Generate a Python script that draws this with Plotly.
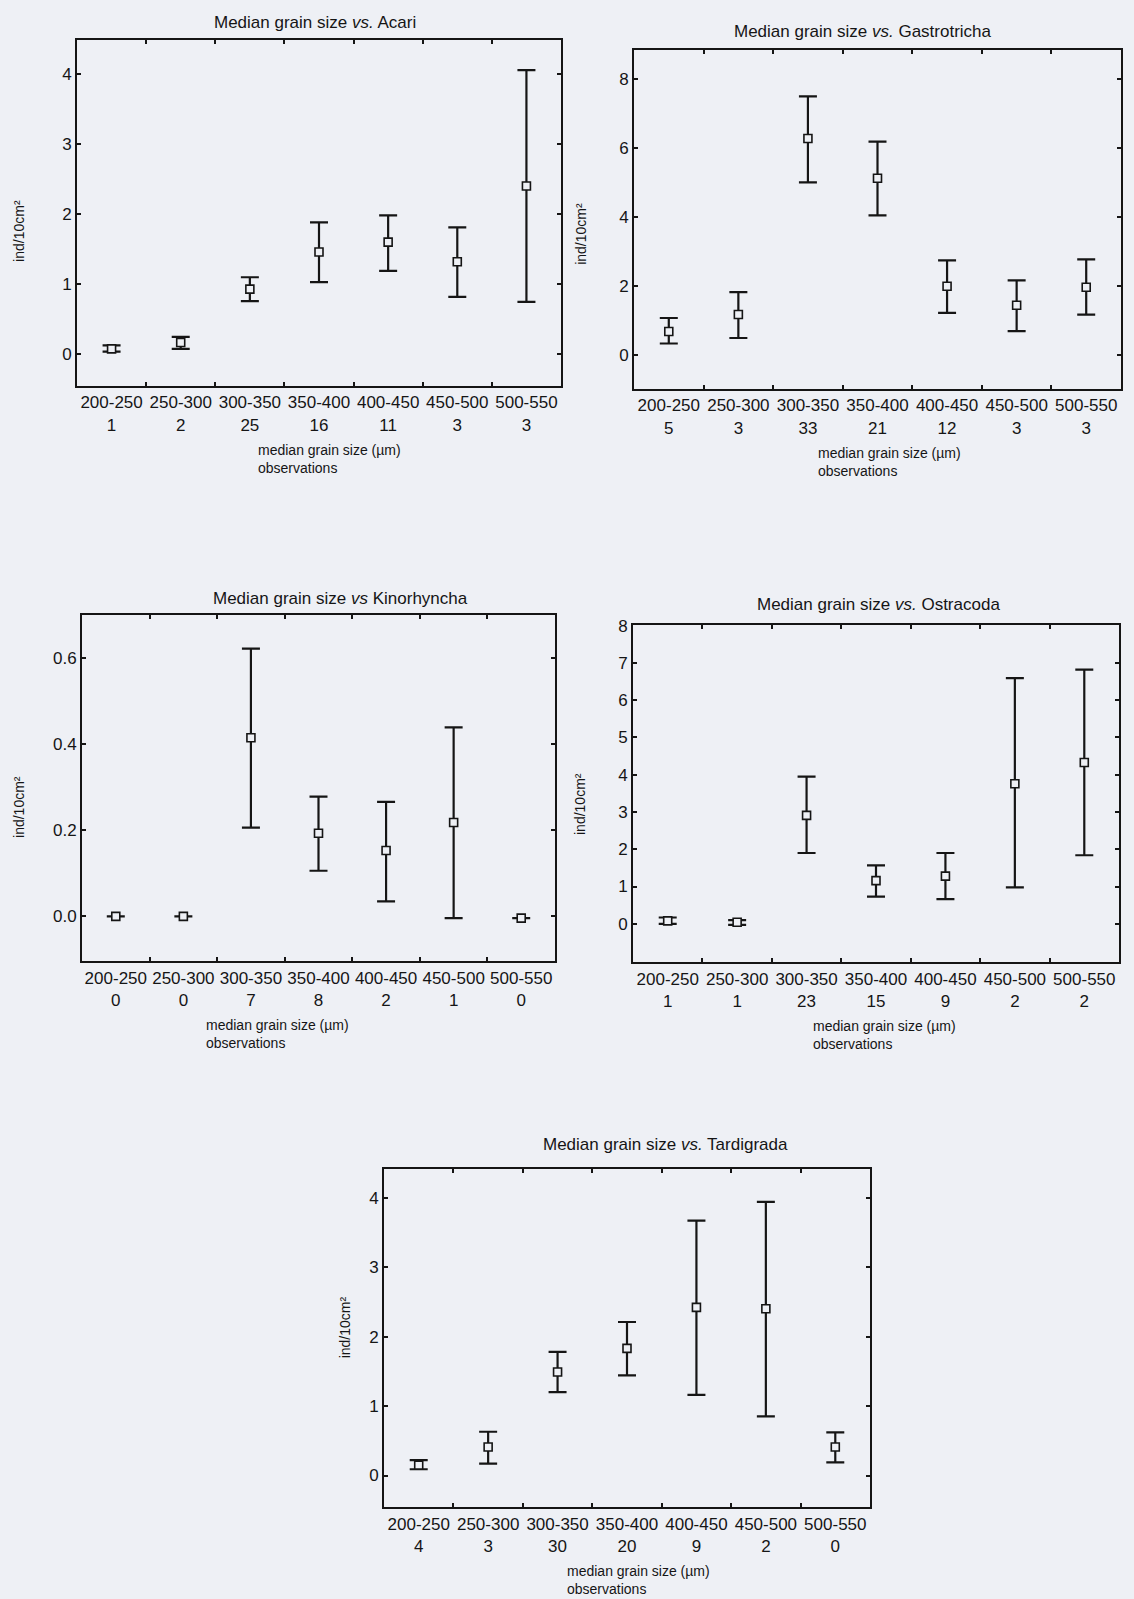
import plotly.graph_objects as go

# ---------------- data ----------------
categories = ["200-250", "250-300", "300-350", "350-400", "400-450", "450-500", "500-550"]

acari_obs = [1, 2, 25, 16, 11, 3, 3]
acari_mean = [0.08, 0.17, 0.93, 1.46, 1.60, 1.32, 2.40]
acari_hi = [0.13, 0.25, 1.10, 1.88, 1.98, 1.81, 4.05]
acari_lo = [0.04, 0.08, 0.76, 1.03, 1.19, 0.82, 0.75]

gastro_obs = [5, 3, 33, 21, 12, 3, 3]
gastro_mean = [0.69, 1.18, 6.28, 5.13, 2.00, 1.45, 1.97]
gastro_hi = [1.08, 1.83, 7.50, 6.19, 2.75, 2.17, 2.78]
gastro_lo = [0.34, 0.50, 5.01, 4.05, 1.23, 0.70, 1.18]

kino_obs = [0, 0, 7, 8, 2, 1, 0]
kino_mean = [0.0, 0.0, 0.415, 0.193, 0.153, 0.218, -0.004]
kino_hi = [0.0, 0.0, 0.622, 0.278, 0.266, 0.439, -0.004]
kino_lo = [0.0, 0.0, 0.206, 0.106, 0.035, -0.004, -0.004]

ostra_obs = [1, 1, 23, 15, 9, 2, 2]
ostra_mean = [0.08, 0.04, 2.91, 1.16, 1.28, 3.76, 4.33]
ostra_hi = [0.17, 0.10, 3.95, 1.57, 1.90, 6.59, 6.82]
ostra_lo = [0.00, -0.03, 1.90, 0.73, 0.66, 0.98, 1.84]

tardi_obs = [4, 3, 30, 20, 9, 2, 0]
tardi_mean = [0.15, 0.41, 1.49, 1.83, 2.42, 2.40, 0.41]
tardi_hi = [0.22, 0.63, 1.78, 2.21, 3.67, 3.94, 0.62]
tardi_lo = [0.09, 0.17, 1.20, 1.44, 1.16, 0.85, 0.19]

acari_yticks = [0, 1, 2, 3, 4]
gastro_yticks = [0, 2, 4, 6, 8]
kino_yticks = [0.0, 0.2, 0.4, 0.6]
ostra_yticks = [0, 1, 2, 3, 4, 5, 6, 7, 8]
tardi_yticks = [0, 1, 2, 3, 4]

titles = [
    "Median grain size <i>vs.</i> Acari",
    "Median grain size <i>vs.</i> Gastrotricha",
    "Median grain size <i>vs</i> Kinorhyncha",
    "Median grain size <i>vs.</i> Ostracoda",
    "Median grain size <i>vs.</i> Tardigrada",
]
y_label = "ind/10cm²"
x_label = "median grain size (µm)<br>observations"

# ---------------- layout geometry (pixels) ----------------
W, H = 1134, 1599
BG = "#eef0f5"
INK = "#151515"
FONT = "Liberation Sans, Arial, sans-serif"

panels = [
    dict(L=77, R=561, T=32, B=380, yr=[-0.45, 4.48], ticks=acari_yticks, fmt="", tx=315, ty=15, ax=256, lx=19, ly=224,
         obs=acari_obs, m=acari_mean, hi=acari_hi, lo=acari_lo),
    dict(L=634, R=1121, T=42, B=383, yr=[-0.98, 8.85], ticks=gastro_yticks, fmt="", tx=863, ty=24, ax=816, lx=581, ly=227,
         obs=gastro_obs, m=gastro_mean, hi=gastro_hi, lo=gastro_lo),
    dict(L=82, R=555, T=610, B=958, yr=[-0.104, 0.70], ticks=kino_yticks, fmt=".1f", tx=340, ty=593, ax=204, lx=19, ly=803,
         obs=kino_obs, m=kino_mean, hi=kino_hi, lo=kino_lo),
    dict(L=633, R=1119, T=620, B=959, yr=[-1.03, 8.02], ticks=ostra_yticks, fmt="", tx=878, ty=599, ax=811, lx=580, ly=800,
         obs=ostra_obs, m=ostra_mean, hi=ostra_hi, lo=ostra_lo),
    dict(L=384, R=870, T=1167, B=1507, yr=[-0.46, 4.41], ticks=tardi_yticks, fmt="", tx=665, ty=1142, ax=565, lx=345, ly=1326,
         obs=tardi_obs, m=tardi_mean, hi=tardi_hi, lo=tardi_lo),
]


def xp(px):
    return px / W


def yp(py):
    return 1 - py / H


fig = go.Figure()
annotations = []
layout_axes = {}

for i, p in enumerate(panels, start=1):
    xa = "x" if i == 1 else f"x{i}"
    ya = "y" if i == 1 else f"y{i}"
    plus = [h - m for h, m in zip(p["hi"], p["m"])]
    minus = [m - l for m, l in zip(p["m"], p["lo"])]
    fig.add_trace(go.Scatter(
        x=categories, y=p["m"], mode="markers", xaxis=xa, yaxis=ya,
        marker=dict(symbol="square", size=8, color=BG, line=dict(color=INK, width=1.6)),
        error_y=dict(type="data", symmetric=False, array=plus, arrayminus=minus,
                     color=INK, thickness=2.2, width=9),
        showlegend=False, cliponaxis=False,
    ))
    ticktext = [f"{c}<br>{n}" for c, n in zip(categories, p["obs"])]
    xkey = "xaxis" if i == 1 else f"xaxis{i}"
    ykey = "yaxis" if i == 1 else f"yaxis{i}"
    layout_axes[xkey] = dict(
        domain=[xp(p["L"]), xp(p["R"])], anchor=ya, type="category",
        categoryorder="array", categoryarray=categories,
        range=[-0.5, 6.5], tickmode="array", tickvals=categories, ticktext=ticktext,
        tickangle=0,
        tickson="boundaries", ticks="inside", ticklen=4, tickwidth=2, tickcolor=INK,
        showline=True, linewidth=2, linecolor=INK, mirror="ticks",
        showgrid=False, zeroline=False,
        tickfont=dict(family=FONT, size=17, color=INK), fixedrange=True,
    )
    layout_axes[ykey] = dict(
        domain=[yp(p["B"]), yp(p["T"])], anchor=xa, range=p["yr"],
        tickmode="array", tickvals=p["ticks"], tickformat=p["fmt"],
        ticks="inside", ticklen=4, tickwidth=2, tickcolor=INK,
        showline=True, linewidth=2, linecolor=INK, mirror="ticks",
        showgrid=False, zeroline=False,
        tickfont=dict(family=FONT, size=17, color=INK), fixedrange=True,
    )
    annotations.append(dict(
        text=titles[i - 1], x=xp(p["tx"]), y=yp(p["ty"]), xref="paper", yref="paper",
        xanchor="center", yanchor="middle", showarrow=False,
        font=dict(family=FONT, size=17, color=INK),
    ))
    annotations.append(dict(
        text=x_label, x=xp(p["ax"]), y=yp(p["B"] + 54), xref="paper", yref="paper",
        xanchor="left", yanchor="top", align="left", showarrow=False,
        font=dict(family=FONT, size=14, color=INK),
    ))
    annotations.append(dict(
        text=y_label, x=xp(p["lx"]), y=yp(p["ly"]), xref="paper", yref="paper",
        xanchor="center", yanchor="middle", textangle=-90, showarrow=False,
        font=dict(family=FONT, size=14, color=INK),
    ))

fig.update_layout(
    width=W, height=H, autosize=False,
    margin=dict(l=0, r=0, t=0, b=0),
    paper_bgcolor=BG, plot_bgcolor=BG,
    annotations=annotations,
    hovermode=False,
    **layout_axes,
)

fig.write_html(
    "out.html",
    config={"displayModeBar": False, "staticPlot": True},
    post_script=(
        "document.documentElement.style.margin='0';"
        "document.body.style.margin='0';"
        "document.body.style.background='" + BG + "';"
        "document.body.style.overflow='hidden';"
    ),
)
